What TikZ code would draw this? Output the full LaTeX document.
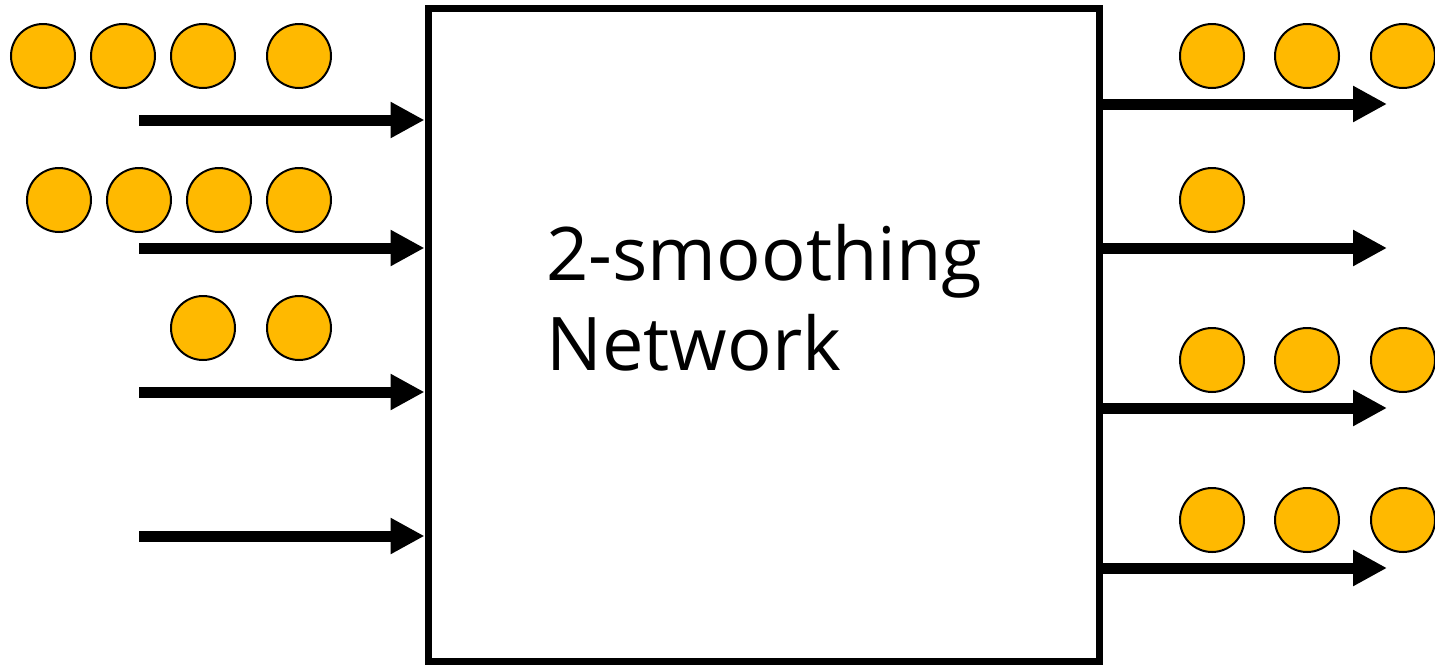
\documentclass[tikz,border=0pt]{standalone}
\usepackage{fontspec}
\setmainfont{Open Sans}
\usetikzlibrary{arrows.meta}
\definecolor{tokenfill}{HTML}{FFB900}
\tikzset{
  token/.style={circle, draw, line width=1pt, fill=tokenfill, minimum size=32pt, inner sep=0pt},
  wire/.style={line width=5.5pt, -{Triangle[length=17pt,width=17pt]}},
}
\begin{document}
\begin{tikzpicture}[x=0.5pt, y=-0.5pt]
      \useasboundingbox (0,0) rectangle (1435,665);
      % Define nodes
      \node[draw, line width=3.5pt, minimum width=335.5pt, minimum height=326.5pt] (net) at (763.5,334.5) {};
      \node[anchor=west, align=left, inner sep=0pt, font=\fontsize{37}{45}\selectfont] (label) at (546,298) {2-smoothing\\Network};
      \coordinate (in1) at (139,120);
      \coordinate (in2) at (139,248);
      \coordinate (in3) at (139,392);
      \coordinate (in4) at (139,536);
      \coordinate (out1) at (1387,104);
      \coordinate (out2) at (1387,248);
      \coordinate (out3) at (1387,408);
      \coordinate (out4) at (1387,568);
      % Tokens on the inputs
      \foreach \x [count=\i] in {43,123,203,299} \node[token] (ina\i) at (\x,56) {};
      \foreach \x [count=\i] in {59,139,219,299} \node[token] (inb\i) at (\x,200) {};
      \foreach \x [count=\i] in {203,299} \node[token] (inc\i) at (\x,328) {};
      % Tokens on the outputs
      \foreach \x [count=\i] in {1212,1307,1403} \node[token] (outa\i) at (\x,56) {};
      \node[token] (outb1) at (1212,200) {};
      \foreach \x [count=\i] in {1212,1307,1403} \node[token] (outc\i) at (\x,360) {};
      \foreach \x [count=\i] in {1212,1307,1403} \node[token] (outd\i) at (\x,520) {};
      % Connect nodes
      \draw[wire] (in1) -- (in1 -| net.west);
      \draw[wire] (in2) -- (in2 -| net.west);
      \draw[wire] (in3) -- (in3 -| net.west);
      \draw[wire] (in4) -- (in4 -| net.west);
      \draw[wire] (out1 -| net.east) -- (out1);
      \draw[wire] (out2 -| net.east) -- (out2);
      \draw[wire] (out3 -| net.east) -- (out3);
      \draw[wire] (out4 -| net.east) -- (out4);
    \end{tikzpicture}
\end{document}
